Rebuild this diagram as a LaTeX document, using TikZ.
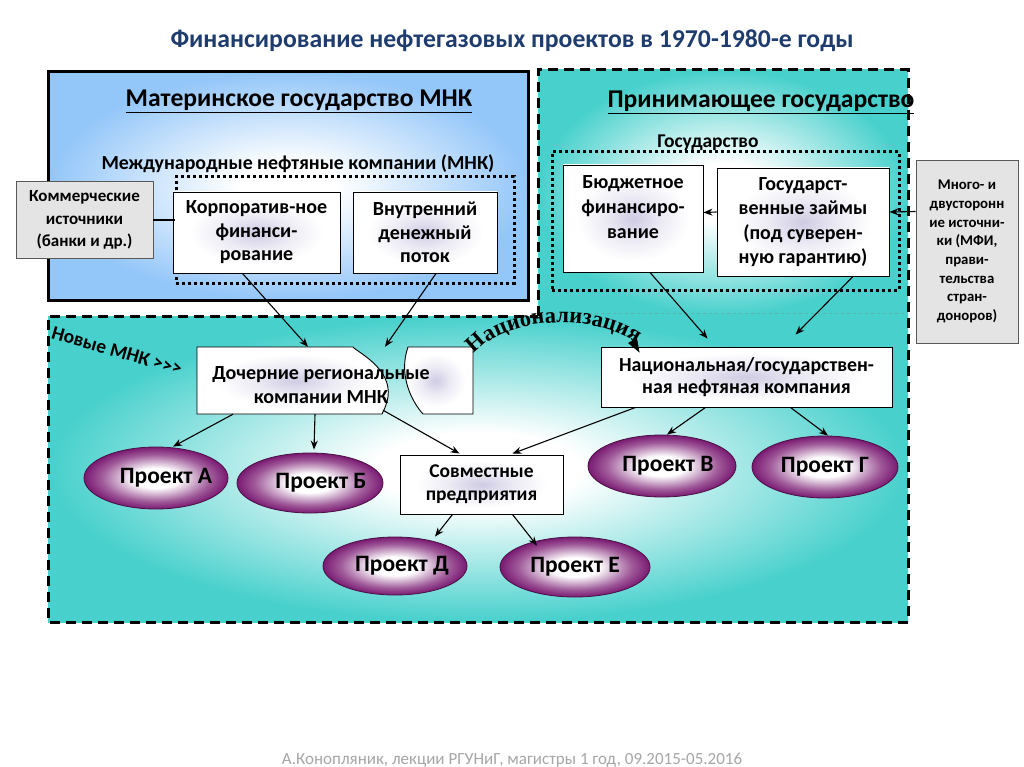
\documentclass[tikz,border=0pt]{standalone}
\usepackage{fontspec}
\setmainfont{Carlito}
\newfontfamily\natfont{Liberation Serif}
\usetikzlibrary{arrows.meta,decorations.text,shapes.geometric}
\definecolor{titleblue}{HTML}{1F3C6E}
\definecolor{bluefill}{HTML}{93C6F9}
\definecolor{tealfill}{HTML}{47D0CC}
\definecolor{purp}{HTML}{7A1A72}
\definecolor{lav}{HTML}{CFCBE3}
\definecolor{grayfill}{HTML}{E4E4E4}
\definecolor{footgray}{HTML}{A6A6A6}
\pgfdeclareradialshading{bluesh}{\pgfpoint{0bp}{0bp}}{color(0bp)=(white); color(5bp)=(white); color(25bp)=(bluefill); color(50bp)=(bluefill)}
\pgfdeclareradialshading{tealsh}{\pgfpoint{0bp}{0bp}}{color(0bp)=(white); color(6bp)=(white); color(25bp)=(tealfill); color(50bp)=(tealfill)}
\pgfdeclareradialshading{projsh}{\pgfpoint{0bp}{0bp}}{color(0bp)=(white); color(8bp)=(white); color(19bp)=(purp!72); color(25bp)=(purp); color(50bp)=(purp)}
\pgfdeclareradialshading{wboxsh}{\pgfpoint{0bp}{0bp}}{color(0bp)=(lav); color(10bp)=(lav!40); color(20bp)=(white); color(50bp)=(white)}
\newcommand{\projlabel}[2]{\makebox[60pt]{\hspace*{#1}#2}}
\begin{document}
\begin{tikzpicture}[x=1pt,y=-1pt,
  wbox/.style={draw=black, line width=0.9pt, shade, shading=wboxsh, align=center, inner sep=0pt, font=\bfseries\fontsize{20}{23.5}\selectfont},
  wtxt/.style={align=center, inner sep=0pt, font=\bfseries\fontsize{20}{25}\selectfont},
  gbox/.style={draw=gray!70!black, line width=0.9pt, fill=grayfill, align=center, inner sep=0pt},
  proj/.style={ellipse, draw=purp!60!black, line width=0.8pt, shade, shading=projsh, inner sep=0pt, font=\bfseries\fontsize{23.5}{26}\selectfont},
  arr/.style={-{Stealth[length=9pt,width=7pt]}, line width=1.1pt},
  dashedbox/.style={line width=3pt, dash pattern=on 10pt off 6pt},
  dottedbox/.style={line width=3pt, dash pattern=on 3pt off 3pt},
  hd/.style={anchor=base, inner sep=0pt, font=\bfseries\fontsize{25.6}{25.6}\selectfont}]
\useasboundingbox (0,0) rectangle (1024,767);
\fill[white] (0,0) rectangle (1024,767);
% title
\node[anchor=base, inner sep=0pt, text=titleblue, font=\bfseries\fontsize{25.7}{25.7}\selectfont] (title) at (512,48) {Финансирование нефтегазовых проектов в 1970-1980-е годы};
% teal regions
\shade[shading=tealsh] (48,316) rectangle (908,622);
\shade[shading=tealsh] (538,70) rectangle (908,316);
\draw[dashedbox] (538,316) -- (538,70) -- (908,70) -- (908,622) -- (48,622) -- (48,316) -- cycle;
\draw[tealfill!60!gray, dashed, line width=0.8pt] (541,313) -- (905,313);
% home country
\node[draw, line width=3pt, shade, shading=bluesh, minimum width=480pt, minimum height=228pt, inner sep=0pt] (homebox) at (288,186) {};
\node[hd] (homehd) at (299,107) {\underline{Материнское государство МНК}};
\node[hd, font=\bfseries\fontsize{19.9}{19.9}\selectfont] (mnkhd) at (298,170) {Международные нефтяные компании (МНК)};
\node[draw, dottedbox, minimum width=338pt, minimum height=106pt, inner sep=0pt] (mnkgrp) at (345,230) {};
\node[wbox, minimum width=167pt, minimum height=81pt] (korp) at (256.5,232.5) {Корпоратив-ное\\финанси-\\рование};
\node[wbox, minimum width=144pt, minimum height=81pt] (vnutr) at (425,232.5) {Внутренний\\денежный\\поток};
\node[gbox, minimum width=137pt, minimum height=77pt, font=\bfseries\fontsize{17}{22.5}\selectfont] (komm) at (84.5,220) {Коммерческие\\источники\\(банки и др.)};
% host country
\node[hd] (hosthd) at (761,108) {\underline{Принимающее государство}};
\node[draw, dottedbox, minimum width=347pt, minimum height=138pt, inner sep=0pt] (stategrp) at (725.5,221) {};
\node[hd, font=\bfseries\fontsize{19.5}{19.5}\selectfont] (statehd) at (708,148) {Государство};
\node[wbox, minimum width=140pt, minimum height=107pt] (budget) at (633,218.5) {};
\node[wtxt] (budgettxt) at ([yshift=11pt]budget.center) {Бюджетное\\финансиро-\\вание};
\node[wbox, minimum width=172pt, minimum height=108pt, font=\bfseries\fontsize{20}{24.5}\selectfont] (zaim) at (803,222) {Государст-\\венные займы\\(под суверен-\\ную гарантию)};
\node[gbox, minimum width=102pt, minimum height=183pt, font=\bfseries\fontsize{14.8}{18.7}\selectfont] (mnogo) at (967,251.5) {Много- и\\двусторонн\\ие источни-\\ки (МФИ,\\прави-\\тельства\\стран-\\доноров)};
% lower part
\node[rotate=-16, inner sep=0pt, font=\bfseries\fontsize{19.5}{19.5}\selectfont] (novye) at (117,351) {Новые МНК >{}>{}>};
\node[inner sep=0pt, minimum width=276pt, minimum height=67pt] (doch) at (335,380.5) {};
\draw[line width=0.9pt, shade, shading=wboxsh] (197,347) -- (353,347) .. controls (357,352) and (392,368) .. (388,397) .. controls (387,404) and (384,410) .. (382,414) -- (197,414) -- cycle;
\draw[line width=0.9pt, shade, shading=wboxsh] (408,347) -- (473,347) -- (473,414) -- (423,414) .. controls (412,402) and (398,375) .. (408,347) -- cycle;
\node[wtxt, font=\bfseries\fontsize{20}{24}\selectfont] (dochtxt) at (321,385) {Дочерние региональные\\компании МНК};
\node[wbox, minimum width=291pt, minimum height=60pt, font=\bfseries\fontsize{19.9}{22}\selectfont] (nat) at (746.5,377) {Национальная/государствен-\\ная нефтяная компания};
\node[wbox, minimum width=163pt, minimum height=59pt, font=\bfseries\fontsize{19.5}{23}\selectfont] (sovm) at (481.5,484.5) {Совместные\\предприятия};
\node[proj, minimum width=144pt, minimum height=62pt] (pA) at (156,478) {\projlabel{20pt}{Проект А}};
\node[proj, minimum width=146pt, minimum height=60pt] (pB) at (310,483) {\projlabel{22pt}{Проект Б}};
\node[proj, minimum width=148pt, minimum height=62pt] (pV) at (662,466) {\projlabel{12pt}{Проект В}};
\node[proj, minimum width=146pt, minimum height=62pt] (pG) at (825,467) {\projlabel{0pt}{Проект Г}};
\node[proj, minimum width=144pt, minimum height=58pt] (pD) at (395,566) {\projlabel{14pt}{Проект Д}};
\node[proj, minimum width=150pt, minimum height=60pt] (pE) at (575,567) {\projlabel{0pt}{Проект Е}};
% nationalisation
\path[decorate, decoration={text along path, text align=center, text={|\natfont\bfseries\fontsize{22.5}{22.5}\selectfont|Национализация}}] (477,351) .. controls (512,315) and (593,315) .. (633,341);
\coordinate (nzend) at (631,338);
\draw[-{Triangle[length=14pt,width=10pt]}, line width=0.6pt] (nzend) -- ([xshift=39pt,yshift=-6pt]nat.north west);
% connectors
\draw[line width=1.1pt] (komm.east) -- (komm.east -| mnkgrp.west);
\draw[arr] ([xshift=-14pt]korp.south) -- ([xshift=-27pt]doch.north);
\draw[arr] ([xshift=11pt]vnutr.south) -- ([xshift=50pt]doch.north);
\draw[arr] ([xshift=17pt]budget.south) -- ([xshift=-39pt,yshift=8pt]nat.north);
\draw[arr] ([xshift=50pt]zaim.south) -- ([xshift=49pt,yshift=12pt]nat.north);
\draw[arr] ([yshift=10pt]zaim.west) -- ([yshift=6pt]budget.east);
\draw[arr] ([yshift=40pt]mnogo.west) -- ([yshift=10pt]zaim.east);
\draw[arr] ([xshift=-102pt]doch.south) -- ([xshift=17pt]pA.north);
\draw[arr] ([xshift=-20pt]doch.south) -- ([xshift=4pt,yshift=3pt]pB.north);
\draw[arr] ([xshift=48pt,yshift=4pt]doch.south) -- ([xshift=-22pt,yshift=1pt]sovm.north);
\draw[arr] ([xshift=-111pt]nat.south) -- ([xshift=31pt,yshift=1pt]sovm.north);
\draw[arr] ([xshift=-41pt]nat.south) -- ([xshift=5pt]pV.north);
\draw[arr] ([xshift=44pt]nat.south) -- ([xshift=3pt]pG.north);
\draw[arr] ([xshift=-29pt]sovm.south) -- ([xshift=40pt]pD.north);
\draw[arr] ([xshift=31pt]sovm.south) -- ([xshift=-38pt,yshift=-9pt]pE.north);
% footer
\node[anchor=base, inner sep=0pt, text=footgray, font=\fontsize{17}{17}\selectfont] (foot) at (512,764) {А.Конопляник, лекции РГУНиГ, магистры 1 год, 09.2015-05.2016};
\end{tikzpicture}
\end{document}
